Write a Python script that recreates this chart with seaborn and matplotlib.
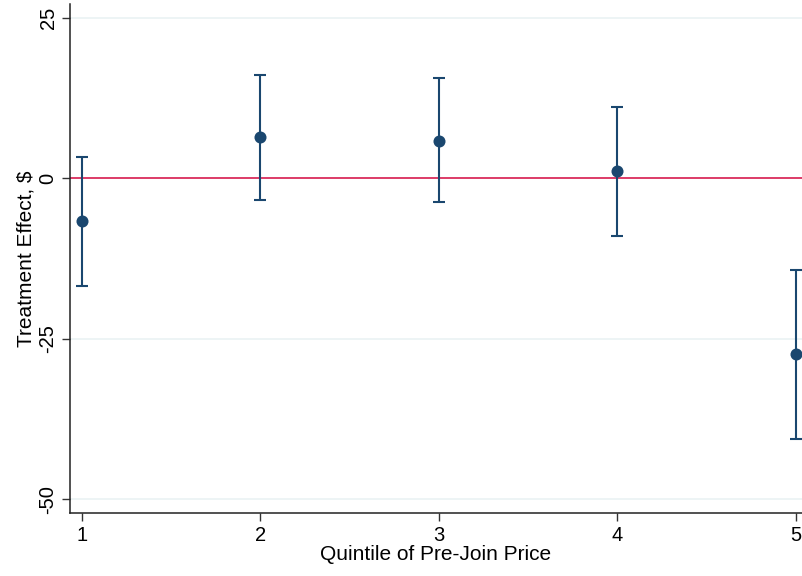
import matplotlib
matplotlib.use("Agg")
import matplotlib.pyplot as plt
import seaborn as sns
import pandas as pd

quintile = [1, 2, 3, 4, 5]
effect = [-6.7, 6.4, 5.9, 1.1, -27.4]
ci_low = [-16.8, -3.4, -3.7, -8.9, -40.7]
ci_high = [3.4, 16.2, 15.6, 11.1, -14.2]
yticks = [-50, -25, 0, 25]

sns.set_theme(style="white")
plt.rcParams['font.family'] = ['Liberation Sans', 'DejaVu Sans']
plt.rcParams['text.color'] = 'black'
plt.rcParams['axes.labelcolor'] = 'black'
plt.rcParams['xtick.color'] = 'black'
plt.rcParams['ytick.color'] = 'black'

df = pd.DataFrame({"q": quintile, "eff": effect, "lo": ci_low, "hi": ci_high})

fig = plt.figure(figsize=(8.02, 5.76), dpi=100)
ax = fig.add_axes([0.0873, 0.109, 0.9127, 0.884])

navy = "#1a476f"
for g in [-50, -25, 25]:
    ax.axhline(g, color="#eaf2f3", lw=1.2, zorder=0)
ax.axhline(0, color="#d3063f", lw=1.1, zorder=1)

ax.errorbar(df["q"], df["eff"],
            yerr=[df["eff"] - df["lo"], df["hi"] - df["eff"]],
            fmt="none", ecolor=navy, elinewidth=1.5, capsize=4.5, capthick=1.5, zorder=2)
sns.scatterplot(data=df, x="q", y="eff", ax=ax, color=navy, s=75, edgecolor=navy,
                linewidth=0, zorder=3, legend=False)

ax.set_xlim(0.933, 5.034)
ax.set_ylim(-52.2, 27.2)
ax.set_xticks(quintile)
ax.set_yticks(yticks)
ax.set_yticklabels([str(t) for t in yticks], rotation=90, va="center")
ax.tick_params(axis="both", which="both", direction="out", length=6, width=1,
               color="#333333", labelcolor="black", labelsize=14.5, left=True, bottom=True, pad=3)
ax.set_xlabel("Quintile of Pre-Join Price", fontsize=15, labelpad=0, color="black")
ax.set_ylabel("Treatment Effect, $", fontsize=15, labelpad=2, color="black")

for s in ["top", "right"]:
    ax.spines[s].set_visible(False)
for s in ["left", "bottom"]:
    ax.spines[s].set_color("#222222")
    ax.spines[s].set_linewidth(1.1)

fig.savefig("out.png", dpi=100, facecolor="white")
